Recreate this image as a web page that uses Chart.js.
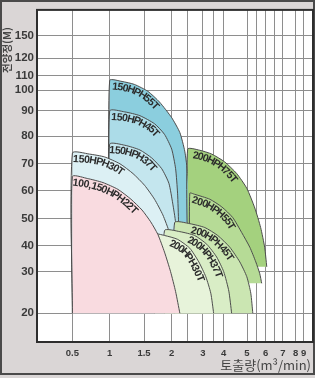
<!DOCTYPE html>
<html>
<head>
<meta charset="utf-8">
<script src="https://cdn.jsdelivr.net/npm/chart.js@4.4.1/dist/chart.umd.min.js"></script>
<style>
html,body{margin:0;padding:0;background:#dad6d6;}
canvas{display:block;}
</style>
</head>
<body>
<canvas id="c" width="315" height="378"></canvas>
<script>
// ---------------- DATA ----------------
const modelNames = ['100,150HPH22T','150HPH30T','150HPH37T','150HPH45T','150HPH55T',
                    '200HPH30T','200HPH37T','200HPH45T','200HPH55T','200HPH75T'];

// capacity Q (m3/min) and head H (m) along each region outline:
// bottom-left corner, top-left corner, then the curved limit down to the bottom
const h22Q = [0.5, 0.5, 0.70, 0.91, 1.12, 1.31, 1.47, 1.62, 1.75, 1.87, 1.98, 2.12, 2.25];
const h22H = [20, 65.3, 64.6, 63.1, 60.6, 57.0, 53.1, 48.8, 44.2, 37.6, 30.0, 25.2, 20];
const h30Q = [0.5, 0.5, 0.73, 0.93, 1.15, 1.34, 1.51, 1.69, 1.84, 1.96, 2.09, 2.18, 2.25];
const h30H = [20, 73.9, 73.5, 72.5, 70.0, 66.4, 62.1, 57.0, 51.3, 44.9, 37.6, 28.8, 20];
const h37Q = [1, 1, 1.22, 1.44, 1.64, 1.82, 1.95, 2.03, 2.12, 2.15];
const h37H = [40, 77.1, 76.7, 75.0, 72.1, 68.2, 62.8, 55.6, 48.5, 40];
const h45Q = [1, 1, 1.22, 1.44, 1.69, 1.87, 2.00, 2.12, 2.18, 2.21, 2.21];
const h45H = [40, 90, 89.6, 88.1, 84.9, 80.7, 75.3, 68.2, 59.2, 48.5, 40];
const h55Q = [1, 1, 1.18, 1.36, 1.57, 1.78, 2.00, 2.25, 2.40, 2.49, 2.56, 2.59];
const h55H = [48.5, 106.7, 106.0, 104.0, 99.5, 94.3, 87.3, 81.4, 74.6, 66.4, 55.6, 48.5];

const g30Q = [1.69, 1.69, 1.87, 2.18, 2.56, 2.86, 3.14, 3.39, 3.53];
const g30H = [20, 44.2, 43.8, 42.4, 39.1, 33.8, 28.8, 24.8, 20];
const g37Q = [1.87, 1.87, 2.25, 2.72, 3.19, 3.67, 4.00, 4.22, 4.34];
const g37H = [20, 45.6, 45.2, 43.8, 40.6, 35.7, 30.0, 25.3, 20];
const g45Q = [2.09, 2.09, 2.56, 3.09, 3.72, 4.26, 4.69, 4.99, 5.19, 5.29];
const g45H = [20, 48.5, 48.1, 46.7, 43.8, 39.5, 33.8, 28.8, 24.8, 20];
const g55Q = [2.56, 2.56, 2.72, 3.34, 3.91, 4.39, 4.77, 5.14, 5.44, 5.66, 5.77];
const g55H = [27.2, 59.2, 58.8, 57.0, 54.2, 50.3, 44.9, 39.5, 33.8, 29.5, 27.2];
const g75Q = [2.49, 2.49, 2.89, 3.44, 4.04, 4.56, 4.99, 5.39, 5.71, 5.94, 6.06];
const g75H = [31.9, 75.3, 74.9, 73.5, 70.7, 66.4, 61.0, 53.8, 46.7, 39.5, 31.9];

// axis tick values
const xGridValues = [0.5, 1, 1.5, 2, 2.5, 3, 3.5, 4, 5, 5.5, 6, 6.5, 7, 8, 9];
const xTickLabels = [0.5, 1, 1.5, 2, 3, 4, 5, 6, 7, 8, 9];
const yTickValues = [20, 30, 40, 50, 60, 70, 80, 90, 100, 110, 120, 150];

const xTitle = '토출량(m³/min)';
const yTitle = '전양정(M)';

// ---------------- SCALE (the chart's own irregular printed scale) ----------------
const AXIS_STOPS = {
  x: { values: [0, 0.5, 1, 1.5, 2, 2.5, 3, 3.5, 4, 5, 5.5, 6, 6.5, 7, 8, 9, 10],
       fr: [0, 0.1283, 0.2634, 0.3877, 0.4880, 0.5471, 0.6014, 0.6377, 0.6765, 0.7609,
            0.7971, 0.8286, 0.8612, 0.8913, 0.9373, 0.9663, 1] },
  y: { values: [13, 20, 30, 40, 50, 60, 70, 80, 90, 100, 110, 120, 150, 180],
       fr: [0, 0.0868, 0.2117, 0.2893, 0.3720, 0.4547, 0.5365, 0.6200, 0.6959, 0.7579,
            0.8022, 0.8544, 0.9224, 1] }
};
const AXIS_TICKS = { x: xGridValues, y: yTickValues };

class PiecewiseScale extends Chart.LinearScale {
  static id = 'piecewise';
  static defaults = {};
  determineDataLimits() {
    const v = AXIS_STOPS[this.id].values;
    this.min = v[0];
    this.max = v[v.length - 1];
  }
  buildTicks() {
    return AXIS_TICKS[this.id].map(v => ({ value: v }));
  }
  getPixelForValue(value) {
    if (value === null || value === undefined || isNaN(value)) return NaN;
    const { values, fr } = AXIS_STOPS[this.id];
    let i = 1;
    while (i < values.length - 1 && value > values[i]) i++;
    const t = (value - values[i - 1]) / (values[i] - values[i - 1]);
    return this.getPixelForDecimal(fr[i - 1] + t * (fr[i] - fr[i - 1]));
  }
  getValueForPixel(pixel) {
    const d = this.getDecimalForPixel(pixel);
    const { values, fr } = AXIS_STOPS[this.id];
    let i = 1;
    while (i < fr.length - 1 && d > fr[i]) i++;
    const t = (d - fr[i - 1]) / (fr[i] - fr[i - 1]);
    return values[i - 1] + t * (values[i] - values[i - 1]);
  }
}
Chart.register(PiecewiseScale);

// ---------------- STYLES ----------------
const regionOrder = [   // drawn top-most first
  { q: h22Q, h: h22H, name: modelNames[0], fill: '#f9dbe0', start: 1, off: 6 },
  { q: g30Q, h: g30H, name: modelNames[5], fill: '#e7f3da', start: 18, off: 6 },
  { q: g37Q, h: g37H, name: modelNames[6], fill: '#d9edc6', start: 26, off: 6 },
  { q: g45Q, h: g45H, name: modelNames[7], fill: '#cbe6b2', start: 18, off: 6 },
  { q: g55Q, h: g55H, name: modelNames[8], fill: '#b6db96', start: 4, off: 6 },
  { q: g75Q, h: g75H, name: modelNames[9], fill: '#a4d17e', start: 6, off: 6 },
  { q: h30Q, h: h30H, name: modelNames[1], fill: '#dcf0f4', start: 1, off: 6 },
  { q: h37Q, h: h37H, name: modelNames[2], fill: '#c4e6ee', start: 0, off: 6 },
  { q: h45Q, h: h45H, name: modelNames[3], fill: '#acdce8', start: 2, off: 6 },
  { q: h55Q, h: h55H, name: modelNames[4], fill: '#8bcede', start: 3, off: 6 }
];

const datasets = regionOrder.map(r => ({
  label: r.name,
  data: r.q.map((q, i) => ({ x: q, y: r.h[i] })),
  backgroundColor: r.fill,
  borderColor: '#4d4d4d',
  borderWidth: 1,
  pointRadius: 0,
  tension: 0.2,
  fill: { value: r.h[0] }
}));

// ---------------- PLUGINS ----------------
const framePlugin = {
  id: 'frame',
  beforeDraw(chart) {
    const { ctx, chartArea: a } = chart;
    ctx.save();
    ctx.fillStyle = '#dad6d6';
    ctx.fillRect(0, 0, chart.width, chart.height);
    ctx.fillStyle = '#ffffff';
    ctx.fillRect(a.left, a.top, a.right - a.left, a.bottom - a.top);
    ctx.restore();
  },
  afterDraw(chart) {
    const { ctx, chartArea: a } = chart;
    ctx.save();
    ctx.strokeStyle = '#4a4a4a';
    ctx.lineWidth = 2;
    ctx.strokeRect(1, 1, 313, 373);
    ctx.strokeStyle = '#2e2e2e';
    ctx.lineWidth = 2;
    ctx.strokeRect(a.left, a.top, a.right - a.left, a.bottom - a.top);
    // axis titles
    ctx.fillStyle = '#454545';
    ctx.font = 'bold 10.5px "Noto Sans CJK KR"';
    ctx.textBaseline = 'middle';
    ctx.textAlign = 'center';
    ctx.translate(7, 50);
    ctx.rotate(-Math.PI / 2);
    ctx.fillText(yTitle, 0, 0);
    ctx.restore();
    ctx.save();
    ctx.fillStyle = '#454545';
    ctx.font = '13px "Noto Sans CJK KR"';
    ctx.textBaseline = 'middle';
    ctx.textAlign = 'right';
    ctx.fillText(xTitle, a.right - 2, 365);
    ctx.restore();
  }
};

function along(pts, cum, s) {
  const L = cum[cum.length - 1];
  s = Math.max(0, Math.min(L, s));
  let i = 1;
  while (i < cum.length - 1 && cum[i] < s) i++;
  const seg = (cum[i] - cum[i - 1]) || 1;
  const t = (s - cum[i - 1]) / seg;
  return { x: pts[i - 1].x + t * (pts[i].x - pts[i - 1].x), y: pts[i - 1].y + t * (pts[i].y - pts[i - 1].y) };
}

const labelPlugin = {
  id: 'arcLabels',
  afterDraw(chart) {
    const ctx = chart.ctx;
    ctx.save();
    ctx.font = 'bold 10.5px "Liberation Sans"';
    ctx.fillStyle = '#2c2c2c';
    ctx.textAlign = 'center';
    ctx.textBaseline = 'middle';
    regionOrder.forEach((r, di) => {
      const meta = chart.getDatasetMeta(di);
      const pts = meta.data.slice(1).map(e => ({ x: e.x, y: e.y }));
      const cum = [0];
      for (let i = 1; i < pts.length; i++) cum.push(cum[i - 1] + Math.hypot(pts[i].x - pts[i - 1].x, pts[i].y - pts[i - 1].y));
      let s = r.start;
      for (const ch of r.name) {
        const w = ctx.measureText(ch).width;
        const c = s + w / 2;
        const p1 = along(pts, cum, c - 6), p2 = along(pts, cum, c + 6), p = along(pts, cum, c);
        const ang = Math.atan2(p2.y - p1.y, p2.x - p1.x);
        ctx.save();
        ctx.translate(p.x - Math.sin(ang) * r.off, p.y + Math.cos(ang) * r.off);
        ctx.rotate(ang);
        ctx.fillText(ch, 0, 0);
        ctx.restore();
        s += w * 0.97;
      }
    });
    ctx.restore();
  }
};

// ---------------- CHART ----------------
new Chart(document.getElementById('c'), {
  type: 'line',
  data: { datasets },
  options: {
    responsive: false,
    animation: false,
    devicePixelRatio: 1,
    layout: { padding: { top: 2, right: 2, left: 0, bottom: 0 } },
    plugins: { legend: { display: false }, tooltip: { enabled: false } },
    scales: {
      x: {
        type: 'piecewise',
        position: 'bottom',
        z: 1,
        afterFit: s => { s.height = 36; },
        border: { display: false },
        grid: { color: '#8e8e8e', lineWidth: 1, drawTicks: false },
        ticks: {
          autoSkip: false, maxRotation: 0, padding: 6,
          color: '#3a3a3a',
          font: { family: 'Liberation Sans', size: 9.5, weight: 'bold' },
          callback: v => (xTickLabels.includes(v) ? String(v) : '')
        }
      },
      y: {
        type: 'piecewise',
        position: 'left',
        z: 1,
        afterFit: s => { s.width = 37; },
        border: { display: false },
        grid: { color: '#8e8e8e', lineWidth: 1, drawTicks: false },
        ticks: {
          autoSkip: false, padding: 3,
          color: '#3a3a3a',
          font: { family: 'Liberation Sans', size: 11.5, weight: 'bold' },
          callback: v => String(v)
        }
      }
    }
  },
  plugins: [framePlugin, labelPlugin]
});
</script>
</body>
</html>
